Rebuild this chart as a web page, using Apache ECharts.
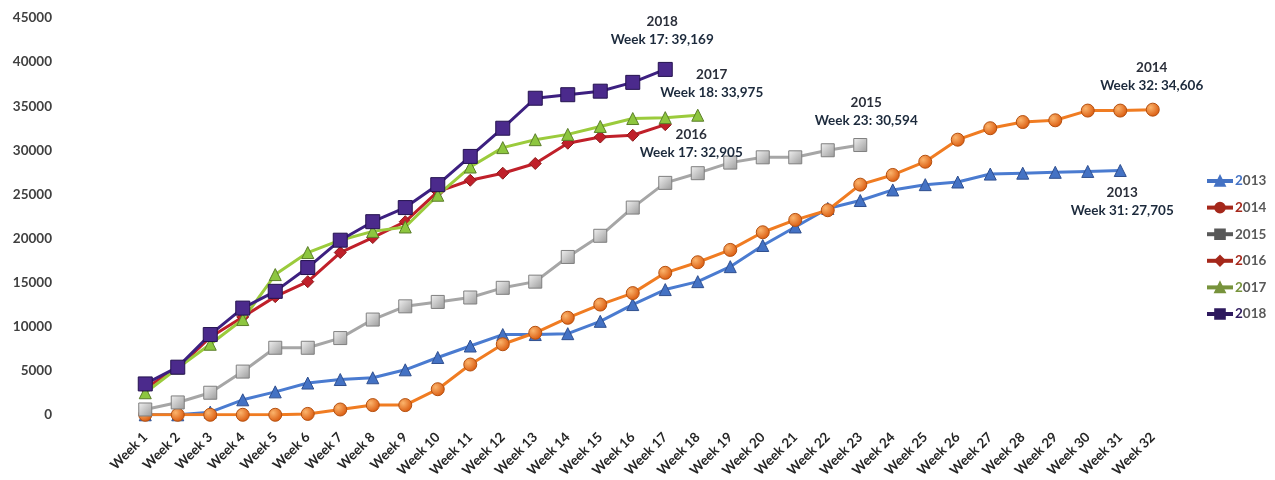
<!DOCTYPE html>
<html><head><meta charset="utf-8">
<script src="https://cdn.jsdelivr.net/npm/echarts@6/dist/echarts.min.js"></script>
<style>html,body{margin:0;padding:0;background:#fff}#c{width:1275px;height:480px}</style>
</head><body><div id="c"></div>
<script>
const weeks = ['Week 1','Week 2','Week 3','Week 4','Week 5','Week 6','Week 7','Week 8','Week 9','Week 10',
  'Week 11','Week 12','Week 13','Week 14','Week 15','Week 16','Week 17','Week 18','Week 19','Week 20',
  'Week 21','Week 22','Week 23','Week 24','Week 25','Week 26','Week 27','Week 28','Week 29','Week 30',
  'Week 31','Week 32'];
const years = ['2013','2014','2015','2016','2017','2018'];
const y2013 = [0,0,300,1700,2600,3600,4000,4200,5100,6500,7800,9100,9100,9200,10600,12500,14200,15100,16800,19200,21300,23400,24300,25500,26100,26400,27300,27400,27500,27600,27705];
const y2014 = [0,0,0,0,0,100,600,1100,1100,2900,5700,8000,9300,11000,12500,13800,16100,17300,18700,20700,22100,23200,26100,27200,28700,31200,32500,33200,33400,34500,34500,34606];
const y2015 = [600,1400,2500,4900,7600,7600,8700,10800,12300,12800,13300,14400,15100,17900,20300,23500,26300,27400,28600,29200,29200,30000,30594];
const y2016 = [3000,5300,8800,11100,13400,15100,18400,20100,21900,25300,26600,27400,28500,30800,31500,31700,32905];
const y2017 = [2500,5300,8000,10800,15900,18400,19800,20800,21300,24900,28100,30300,31200,31800,32700,33600,33700,33975];
const y2018 = [3500,5400,9100,12100,14000,16700,19800,21900,23500,26100,29300,32500,35900,36300,36700,37700,39169];
const yTicks = [0,5000,10000,15000,20000,25000,30000,35000,40000,45000];

const seriesValues = [y2013,y2014,y2015,y2016,y2017,y2018];
const lineColors = ['#4a7bd0','#f07c22','#a6a6a6','#c0202a','#9bcb3c','#3d2080'];
const legendColors = ['#4472c4','#a5281b','#595959','#a5281b','#77933c','#2e1a5e'];
const symbols = ['triangle','circle','rect','diamond','triangle','rect'];
const symbolSizes = [12,13,13,12,12,14];
const markerFill = [
  '#4472c4',
  {type:'radial',x:0.35,y:0.35,r:0.7,colorStops:[{offset:0,color:'#fbb46c'},{offset:1,color:'#d9570b'}]},
  {type:'linear',x:0,y:0,x2:1,y2:1,colorStops:[{offset:0,color:'#f2f2f2'},{offset:1,color:'#9a9a9a'}]},
  '#c0202a','#8dc63f','#4b2a8c'];
const markerBorder = ['#2f4f8f','#b5500f','#7f7f7f','#8c1a1a','#5a7d28','#24124f'];
// label placement per series: [position, distance, offsetX, offsetY]
const labelPlace = [['bottom',7,2,0],['top',8,-1,0],['top',8,6,0],['bottom',0,26,-6],['top',7,14,0],['top',13,-3,0]];

const series = seriesValues.map((vals, i) => {
  const last = vals.length - 1;
  const data = vals.map((v, j) => {
    if (j !== last) return v;
    const p = labelPlace[i];
    return {
      value: v,
      label: {
        show: true, position: p[0], distance: p[1], offset: [p[2], p[3]],
        formatter: '{a|' + years[i] + '}\n{b|' + weeks[j] + ': ' + v.toLocaleString('en-US') + '}',
        rich: {
          a: {fontFamily:'Lato', fontWeight:'bold', fontSize:13.5, color:'#2b2f3a', lineHeight:18, align:'center'},
          b: {fontFamily:'Lato', fontWeight:'bold', fontSize:13.5, color:'#1c2a3c', lineHeight:18, align:'center'}
        }
      }
    };
  });
  return {
    name: years[i], type: 'line', data: data,
    symbol: symbols[i], symbolSize: symbolSizes[i], showAllSymbol: true,
    lineStyle: {color: lineColors[i], width: 3},
    itemStyle: {color: markerFill[i], borderColor: markerBorder[i], borderWidth: 1, opacity: 1},
    emphasis: {disabled: true},
    animation: false, z: 2 + i
  };
});

const legendRich = {g: {color:'#595959', fontFamily:'Lato', fontWeight:'bold', fontSize:13.5, lineHeight:14}};
years.forEach((y, i) => { legendRich['c' + i] = {color: legendColors[i], fontFamily:'Lato', fontWeight:'bold', fontSize:13.5, lineHeight:14}; });

const chart = echarts.init(document.getElementById('c'), null, {renderer: 'canvas'});
chart.setOption({
  backgroundColor: '#ffffff',
  animation: false,
  grid: {left: 129, right: 106, top: 18, bottom: 65, containLabel: false},
  legend: {
    orient: 'vertical', left: 1200, top: 169, itemWidth: 26, itemHeight: 12, itemGap: 12.6,
    data: years.map((y, i) => ({
      name: y,
      itemStyle: {color: legendColors[i], borderColor: legendColors[i]},
      lineStyle: {color: legendColors[i], width: 4}
    })),
    formatter: name => { const i = years.indexOf(name); return '{c' + i + '|' + name[0] + '}{g|' + name.slice(1) + '}'; },
    textStyle: {rich: legendRich, padding: [0,0,0,-3]}
  },
  xAxis: {
    type: 'category', data: weeks, boundaryGap: true,
    axisLine: {show: false}, axisTick: {show: false},
    axisLabel: {rotate: 45, interval: 0, margin: 20, fontFamily: 'Lato', fontWeight: 'bold', fontSize: 13.5, color: '#262626'}
  },
  yAxis: {
    type: 'value', min: yTicks[0], max: yTicks[yTicks.length - 1], interval: yTicks[1] - yTicks[0],
    axisLine: {show: false}, axisTick: {show: false}, splitLine: {show: false},
    axisLabel: {margin: 77, formatter: v => String(v), fontFamily: 'Lato', fontWeight: 'bold', fontSize: 13.5, color: '#404040'}
  },
  series: series
});
</script>
</body></html>
